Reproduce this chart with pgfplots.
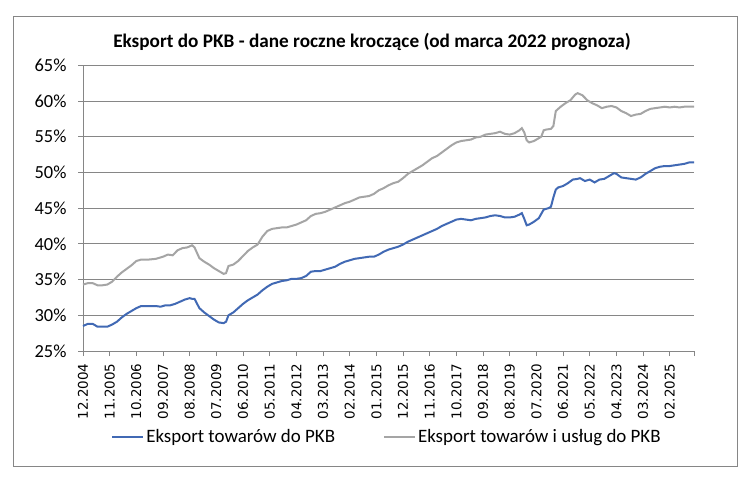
\documentclass[border=0pt]{standalone}
\usepackage{pgfplots}
\pgfplotsset{compat=1.18}
\usepackage{fontspec}
\setmainfont{Carlito}
\newfontfamily\ticksfont{DejaVu Sans}
\definecolor{seriesblue}{RGB}{65,105,180}
\definecolor{seriesgray}{RGB}{165,165,165}
\definecolor{gridgray}{RGB}{134,134,134}
\begin{document}
\begin{tikzpicture}
\useasboundingbox (0,0) rectangle (754bp,478bp);
\fill[white] (0,0) rectangle (754bp,478bp);
\draw[gridgray, line width=0.8bp] (13bp,12bp) rectangle (737bp,462bp);
\node[font=\fontsize{19.3}{21}\selectfont\bfseries] at (372bp,436bp)
  {Eksport do PKB - dane roczne kroczące (od marca 2022 prognoza)};
\begin{axis}[
  at={(83bp,127bp)}, anchor=south west,
  scale only axis, width=611bp, height=285.7bp,
  xmin=0, xmax=252, ymin=25, ymax=65,
  axis lines*=left,
  axis line style={gridgray, line width=0.8bp},
  tick align=outside, major tick length=5bp,
  tick style={gridgray, line width=0.8bp},
  ymajorgrids, grid style={gridgray, line width=0.8bp},
  ytick={25,30,...,65},
  yticklabels={25\%,30\%,35\%,40\%,45\%,50\%,55\%,60\%,65\%},
  yticklabel style={font=\fontsize{18.5}{20}\selectfont, xshift=-8bp},
  xtick={0,11,...,242},
  xticklabels={12.2004,11.2005,10.2006,09.2007,08.2008,07.2009,06.2010,05.2011,04.2012,03.2013,02.2014,01.2015,12.2015,11.2016,10.2017,09.2018,08.2019,07.2020,06.2021,05.2022,04.2023,03.2024,02.2025},
  extra x ticks={252}, extra x tick labels={},
  xticklabel style={font=\ticksfont\fontsize{13.5}{15}\selectfont, rotate=90, anchor=east, xshift=-4bp},
  legend style={at={(0.4975,-0.301)}, anchor=center, draw=none, fill=none,
    font=\fontsize{19}{21}\selectfont, legend columns=2,
    /tikz/every even column/.append style={column sep=46bp}},
  legend image code/.code={\draw[#1] (0bp,0bp) -- (31bp,0bp);},
  clip=false,
]
\addplot[seriesblue, line width=2bp] table {
0 28.5
2 28.8
4 28.8
6 28.4
8 28.4
10 28.4
12 28.7
14 29.1
16 29.7
18 30.2
20 30.6
22 31.0
24 31.3
27 31.3
30 31.3
32 31.2
34 31.4
36 31.4
38 31.6
40 31.9
42 32.2
44 32.4
45 32.3
46 32.3
48 31.0
50 30.4
52 29.9
54 29.4
56 29.0
58 28.9
59 29.1
60 30.0
62 30.4
64 31.0
66 31.6
68 32.1
70 32.5
72 32.9
74 33.5
76 34.0
78 34.4
80 34.6
82 34.8
84 34.9
86 35.1
88 35.1
90 35.2
92 35.5
94 36.1
96 36.2
98 36.2
100 36.4
102 36.6
104 36.8
106 37.2
108 37.5
110 37.7
112 37.9
114 38.0
116 38.1
118 38.2
120 38.2
122 38.5
124 38.9
126 39.2
128 39.4
130 39.6
132 39.9
134 40.3
136 40.6
138 40.9
140 41.2
142 41.5
144 41.8
146 42.1
148 42.5
150 42.8
152 43.1
154 43.4
156 43.5
158 43.4
160 43.3
162 43.5
164 43.6
166 43.7
168 43.9
170 44.0
172 43.9
174 43.7
176 43.7
178 43.8
180 44.1
181 44.3
182 43.5
183 42.6
184 42.7
186 43.1
188 43.6
190 44.8
192 45.0
193 45.2
194 46.5
195 47.6
196 47.9
198 48.1
200 48.5
202 49.0
204 49.1
205 49.2
207 48.8
209 49.0
211 48.6
213 49.0
215 49.1
217 49.5
219 49.9
220 49.8
222 49.3
224 49.2
226 49.1
228 49.0
230 49.3
232 49.8
234 50.2
236 50.6
238 50.8
240 50.9
242 50.9
244 51.0
246 51.1
248 51.2
250 51.4
252 51.4
};
\addlegendentry{Eksport towarów do PKB}
\addplot[seriesgray, line width=2bp] table {
0 34.3
2 34.5
4 34.5
6 34.2
8 34.2
10 34.3
12 34.7
14 35.4
16 36.0
18 36.5
20 37.0
22 37.6
24 37.8
27 37.8
30 37.9
33 38.2
35 38.5
37 38.4
39 39.1
41 39.4
43 39.5
45 39.8
46 39.5
48 38.0
50 37.5
52 37.1
54 36.6
56 36.2
58 35.8
59 35.9
60 36.9
62 37.1
64 37.6
66 38.3
68 39.0
70 39.5
72 39.9
74 41.0
76 41.8
78 42.1
80 42.2
82 42.3
84 42.3
86 42.5
88 42.7
90 43.0
92 43.3
94 43.9
96 44.2
98 44.3
100 44.5
102 44.8
104 45.1
106 45.4
108 45.7
110 45.9
112 46.2
114 46.5
116 46.6
118 46.7
120 47.0
122 47.5
124 47.8
126 48.2
128 48.5
130 48.7
132 49.2
134 49.8
136 50.2
138 50.6
140 51.0
142 51.5
144 52.0
146 52.3
148 52.8
150 53.3
152 53.8
154 54.2
156 54.4
158 54.5
160 54.6
162 54.9
164 55.0
166 55.3
168 55.4
170 55.5
172 55.7
174 55.4
176 55.3
178 55.5
180 55.9
181 56.2
182 55.6
183 54.5
184 54.2
186 54.4
188 54.8
189 55.0
190 55.9
191 56.0
193 56.1
194 56.5
195 58.6
197 59.2
199 59.7
201 60.1
203 60.9
204 61.1
206 60.8
208 60.1
210 59.7
212 59.4
214 59.0
216 59.2
218 59.3
220 59.1
222 58.6
224 58.3
226 57.9
228 58.1
230 58.2
232 58.6
234 58.9
236 59.0
238 59.1
240 59.2
242 59.1
244 59.2
246 59.1
248 59.2
250 59.2
252 59.2
};
\addlegendentry{Eksport towarów i usług do PKB}
\end{axis}
\end{tikzpicture}
\end{document}
